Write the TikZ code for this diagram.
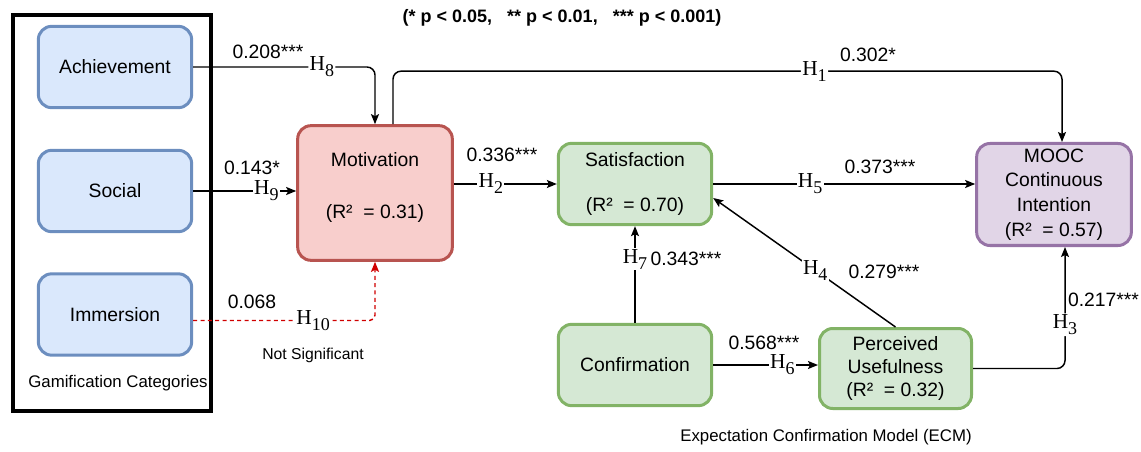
\documentclass[tikz,border=0pt]{standalone}
\usepackage{fontspec}
\setmainfont{Liberation Sans}
\newfontfamily\hfont{Liberation Serif}
\usetikzlibrary{arrows.meta,positioning}
\definecolor{gamfill}{HTML}{DAE8FC}
\definecolor{gamline}{HTML}{6C8EBF}
\definecolor{motfill}{HTML}{F8CECC}
\definecolor{motline}{HTML}{B85450}
\definecolor{ecmfill}{HTML}{D5E8D4}
\definecolor{ecmline}{HTML}{82B366}
\definecolor{intfill}{HTML}{E1D5E7}
\definecolor{intline}{HTML}{9673A6}
\definecolor{nsred}{HTML}{D00000}
\newcommand{\hyp}[1]{{\hfont H\raisebox{-4.5pt}{\fontsize{13.5}{13.5}\selectfont #1}}}

\begin{document}
\begin{tikzpicture}[x=0.75pt,y=-0.75pt,>={Stealth[length=7.5pt,width=6pt,inset=1.5pt]},line width=1.1pt]
    \tikzstyle{cbox}=[rounded corners=10pt,line width=2.25pt,minimum width=115pt,minimum height=61pt,align=center,font=\fontsize{14.5}{17.5}\selectfont]
    \tikzstyle{gbox}=[cbox,draw=gamline,fill=gamfill]
    \tikzstyle{mbox}=[cbox,draw=motline,fill=motfill]
    \tikzstyle{ebox}=[cbox,draw=ecmline,fill=ecmfill]
    \tikzstyle{ibox}=[cbox,draw=intline,fill=intfill]
    \tikzstyle{hyplabel}=[fill=white,text=black,inner sep=1pt,font=\fontsize{16}{16}\selectfont]
    \tikzstyle{coef}=[inner sep=1pt,font=\fontsize{14.5}{14.5}\selectfont]
    \tikzstyle{caption}=[inner sep=1pt,font=\fontsize{12.6}{14}\selectfont]
    \useasboundingbox (0,0) rectangle (1141,452);
    % gamification categories
    \node[draw,line width=3pt,minimum width=148.5pt,minimum height=297pt] (gam) at (112,213) {};
    \node[gbox] (ach) at (115,67) {Achievement};
    \node[gbox] (soc) at (115,191) {Social};
    \node[gbox] (imm) at (115,314.5) {Immersion};
    \node[caption] (gamcap) at (118,383) {Gamification Categories};
    % motivation and ECM
    \node[mbox,minimum width=116pt,minimum height=101pt] (mot) at (375,193) {Motivation\\[22pt](R²~ = 0.31)\\[-6pt]\mbox{}};
    \node[ebox] (sat) at (635,184) {Satisfaction\\[16pt](R²~ = 0.70)};
    \node[ebox] (conf) at (635,365) {Confirmation};
    \node[ebox,minimum width=114pt,minimum height=60pt,font=\fontsize{14.5}{17.6}\selectfont] (pu) at (895.5,368.5) {Perceived\\Usefulness\\(R²~ = 0.32)};
    \node[ibox,minimum width=116pt,minimum height=76.5pt,font=\fontsize{14.5}{18.5}\selectfont] (mooc) at (1054,194.5) {MOOC\\Continuous\\Intention\\(R²~ = 0.57)};
    \node[font=\bfseries\fontsize{13.5}{15}\selectfont] (sig) at (562,18) {(* p < 0.05,~~~** p < 0.01,~~~*** p < 0.001)};
    \node[caption] (ecmcap) at (826,437) {Expectation Confirmation Model (ECM)};
    % paths
    \draw[->,rounded corners=6pt] (ach.east) -| node[hyplabel,pos=.354] (h8) {\hyp{8}} (mot.north);
    \draw[->,rounded corners=6pt] ([xshift=13.5pt]mot.north) -- ++(0,-53) -| node[hyplabel,pos=.315] (h1) {\hyp{1}} ([xshift=6pt]mooc.north);
    \draw[->] (soc.east) -- node[hyplabel,pos=.71] (h9) {\hyp{9}} (soc.east -| mot.west);
    \draw[->,nsred,dash pattern=on 3pt off 2.5pt,rounded corners=4pt] ([yshift=-4.5pt]imm.east) -| node[hyplabel,pos=.33] (h10) {\hyp{10}} (mot.south);
    \draw[->] (sat.west -| mot.east) -- node[hyplabel,pos=.36] (h2) {\hyp{2}} (sat.west);
    \draw[->] (sat.east) -- node[hyplabel,pos=.37] (h5) {\hyp{5}} (sat.east -| mooc.west);
    \draw[->] (conf.north) -- node[hyplabel,pos=.66] (h7) {\hyp{7}} (sat.south);
    \draw[->] (pu.north) -- node[hyplabel,pos=.44] (h4) {\hyp{4}} ([yshift=-10.5pt]sat.east);
    \draw[->] (conf.east) -- node[hyplabel,pos=.66] (h6) {\hyp{6}} (conf.east -| pu.west);
    \draw[->,rounded corners=6pt] (pu.east) -| node[hyplabel,pos=.68] (h3) {\hyp{3}} ([xshift=8.25pt]mooc.south);
    % path coefficients
    \node[coef] (c8) at (268,52) {0.208***};
    \node[coef] (c1) at (868,55) {0.302*};
    \node[coef] (c9) at (252,168) {0.143*};
    \node[coef] (c10) at (252,302) {0.068};
    \node[caption,font=\fontsize{11.8}{13}\selectfont] (ns) at (313,355) {Not Significant};
    \node[coef] (c2) at (502,155) {0.336***};
    \node[coef] (c5) at (880,167) {0.373***};
    \node[coef] (c7) at (686,259) {0.343***};
    \node[coef] (c4) at (884,272) {0.279***};
    \node[coef] (c6) at (764,343) {0.568***};
    \node[coef,anchor=west] (c3) at (1066,300) {0.217***};
\end{tikzpicture}
\end{document}
